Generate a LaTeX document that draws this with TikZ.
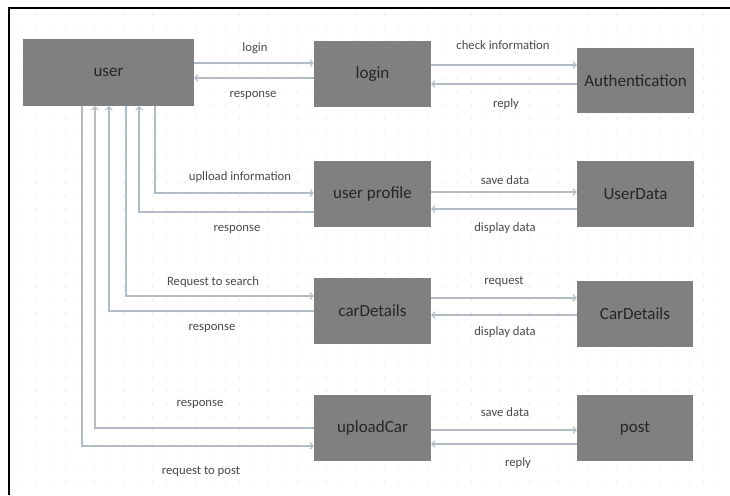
\documentclass[tikz,border=0pt]{standalone}
\usepackage{fontspec}
\setmainfont{Carlito}
\usetikzlibrary{arrows.meta}
\definecolor{boxgray}{HTML}{808080}
\definecolor{wire}{HTML}{B3BCC5}
\definecolor{dotgray}{HTML}{D4D4D4}
\definecolor{boxtext}{HTML}{262626}
\definecolor{lbltext}{HTML}{4A4A4A}
\tikzset{
  block/.style={rectangle, fill=boxgray, draw=none, minimum width=117pt,
    minimum height=66pt, inner sep=0pt, font=\fontsize{17}{20}\selectfont,
    text=boxtext},
  conn/.style={draw=wire, line width=1.5pt,
    -{Straight Barb[length=3pt,width=6.5pt,line width=1.2pt]}},
  lbl/.style={font=\fontsize{12.7}{15}\selectfont, text=lbltext, inner sep=1pt},
}
\begin{document}
\begin{tikzpicture}[x=1pt, y=-1pt]
\useasboundingbox (0,0) rectangle (730,495);
\fill[white] (0,0) rectangle (730,495);
% dotted background
\foreach \gx in {22,36.5,...,725} {
  \foreach \gy in {14,27,...,492} {
    \fill[dotgray] (\gx,\gy) circle (0.7pt);
  }
}
% frame lines (left and top)
\draw[black, line width=2pt] (8.5,495) -- (8.5,8.5) -- (730,8.5);

% blocks
\node[block, minimum width=171pt, minimum height=67pt] (user) at (108.5,72.5) {user};
\node[block] (login) at (372.5,74) {login};
\node[block, minimum height=65pt] (auth) at (635.5,80.5) {Authentication};
\node[block] (profile) at (372.5,194) {user profile};
\node[block] (userdata) at (635.5,194) {UserData};
\node[block] (cardet) at (372.5,311) {carDetails};
\node[block, minimum width=116pt] (cardb) at (635,314) {CarDetails};
\node[block] (upload) at (372.5,428) {uploadCar};
\node[block, minimum width=116pt] (post) at (635,428) {post};

% login exchange
\draw[conn] ([yshift=9.5pt]user.east) -- ([yshift=11pt]login.west);
\draw[conn] ([yshift=-4pt]login.west) -- ([yshift=-5.5pt]user.east);
\draw[conn] ([yshift=9pt]login.east) -- ([yshift=15.5pt]auth.west);
\draw[conn] ([yshift=-3.5pt]auth.west) -- ([yshift=-10pt]login.east);

% profile exchange
\draw[conn] ([xshift=46.5pt]user.south) |- ([yshift=1pt]profile.west);
\draw[conn] ([yshift=-18pt]profile.west) -| ([xshift=30.5pt]user.south);
\draw[conn] ([yshift=2pt]profile.east) -- ([yshift=2pt]userdata.west);
\draw[conn] ([yshift=-15pt]userdata.west) -- ([yshift=-15pt]profile.east);

% car search exchange
\draw[conn] ([xshift=17.5pt]user.south) |- ([yshift=15pt]cardet.west);
\draw[conn] (cardet.west) -| ([xshift=0.5pt]user.south);
\draw[conn] ([yshift=13pt]cardet.east) -- ([yshift=16pt]cardb.west);
\draw[conn] ([yshift=-1pt]cardb.west) -- ([yshift=-4pt]cardet.east);

% car upload exchange
\draw[conn] (upload.west) -| ([xshift=-13.5pt]user.south);
\draw[conn] ([xshift=-26.5pt]user.south) |- ([yshift=-18pt]upload.west);
\draw[conn] ([yshift=-2pt]upload.east) -- ([yshift=-2pt]post.west);
\draw[conn] ([yshift=-16pt]post.west) -- ([yshift=-16pt]upload.east);

% connector labels
\node[lbl] (l1) at (255,48) {login};
\node[lbl] (l2) at (253,95) {response};
\node[lbl] (l3) at (503,45) {check information};
\node[lbl] (l4) at (506,104) {reply};
\node[lbl] (l5) at (240,177) {uplload information};
\node[lbl] (l6) at (237,229) {response};
\node[lbl] (l7) at (505,180) {save data};
\node[lbl] (l8) at (505,228) {display data};
\node[lbl] (l9) at (213,282) {Request to search};
\node[lbl] (l10) at (212,328) {response};
\node[lbl] (l11) at (504,282) {request};
\node[lbl] (l12) at (505,332) {display data};
\node[lbl] (l13) at (200,404) {response};
\node[lbl] (l14) at (201,472) {request to post};
\node[lbl] (l15) at (505,412) {save data};
\node[lbl] (l16) at (518,463) {reply};
\end{tikzpicture}
\end{document}
